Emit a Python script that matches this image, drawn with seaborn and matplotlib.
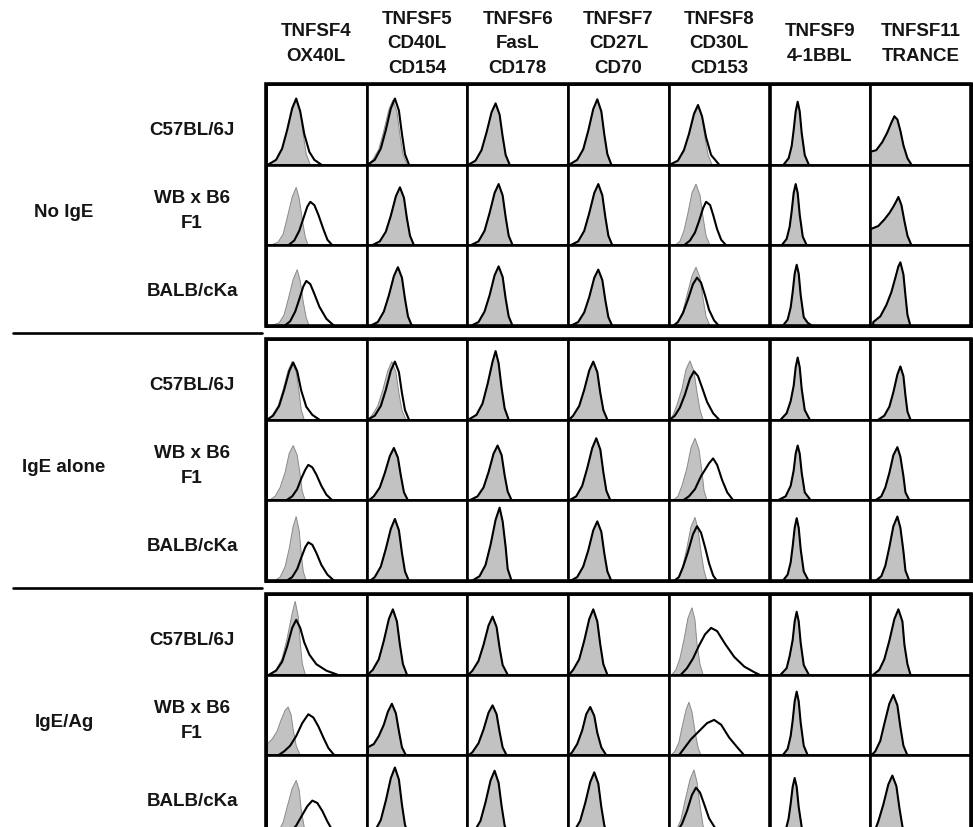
import matplotlib
matplotlib.use("Agg")
import matplotlib.pyplot as plt
from matplotlib.patches import Rectangle
from matplotlib.lines import Line2D
import seaborn as sns

# ==========================================
# Data
# panel units: x = fluorescence channel (0-100), y = % of panel height
# each curve = [x values, y values]
# gray = isotype control (filled), line = specific stain
# None in a line list -> stain follows the control outline
# ==========================================

ligands = ["TNFSF4\nOX40L", "TNFSF5\nCD40L\nCD154", "TNFSF6\nFasL\nCD178",
           "TNFSF7\nCD27L\nCD70", "TNFSF8\nCD30L\nCD153", "TNFSF9\n4-1BBL",
           "TNFSF11\nTRANCE"]
treatments = ["No IgE", "IgE alone", "IgE/Ag"]
strains = ["C57BL/6J", "WB x B6\nF1", "BALB/cKa"]

# ---- No IgE ----
gray_noige_b6 = [
    [[2, 10, 16, 21, 26, 30, 34, 37, 40, 44], [0, 6, 19, 42, 68, 80, 66, 37, 13, 0]],
    [[1, 6, 12, 17, 22, 26, 30, 33, 36, 40], [0, 6, 19, 42, 68, 80, 66, 37, 13, 0]],
    [[1, 8, 14, 19, 24, 28, 32, 35, 38, 42], [0, 5, 18, 40, 65, 76, 62, 35, 12, 0]],
    [[1, 9, 15, 20, 25, 29, 33, 36, 39, 43], [0, 6, 19, 42, 69, 81, 66, 37, 13, 0]],
    [[1, 9, 15, 20, 25, 29, 33, 36, 39, 43], [0, 5, 17, 37, 61, 72, 59, 33, 12, 0]],
    [[14, 19, 22, 24, 26, 28, 30, 32, 35, 39], [0, 8, 23, 43, 66, 78, 66, 39, 12, 0]],
    [[0, 0, 6, 12, 17, 21, 24, 27, 30, 33, 37, 41], [0, 16, 18, 28, 40, 52, 60, 56, 42, 24, 8, 0]],
]
line_noige_b6 = [
    [[2, 10, 16, 21, 26, 30, 34, 38, 43, 48, 55], [0, 6, 20, 43, 70, 82, 66, 38, 16, 6, 0]],
    [[1, 8, 14, 19, 24, 28, 32, 35, 38, 42], [0, 6, 20, 43, 70, 82, 67, 38, 13, 0]],
    None,
    None,
    [[1, 9, 15, 20, 25, 29, 33, 37, 42, 50], [0, 5, 18, 38, 63, 74, 60, 34, 12, 0]],
    None,
    None,
]

gray_noige_wb = [
    [[4, 12, 17, 21, 26, 30, 33, 36, 39, 42], [0, 4, 14, 34, 60, 72, 58, 32, 10, 0]],
    [[5, 13, 19, 24, 29, 33, 37, 40, 43, 47], [0, 5, 17, 37, 61, 72, 59, 33, 12, 0]],
    [[3, 11, 17, 22, 27, 31, 35, 38, 41, 45], [0, 5, 18, 40, 65, 76, 62, 35, 12, 0]],
    [[2, 10, 16, 21, 26, 30, 34, 37, 40, 44], [0, 5, 18, 40, 65, 76, 62, 35, 12, 0]],
    [[6, 11, 15, 19, 23, 27, 31, 34, 37, 41], [0, 5, 18, 40, 65, 76, 62, 35, 12, 0]],
    [[12, 17, 20, 22, 24, 26, 28, 30, 33, 37], [0, 8, 23, 42, 65, 76, 65, 38, 11, 0]],
    [[0, 0, 8, 14, 19, 23, 26, 28, 31, 34, 37, 41], [0, 20, 24, 32, 40, 48, 55, 60, 50, 30, 12, 0]],
]
line_noige_wb = [
    [[22, 28, 33, 37, 41, 44, 48, 52, 57, 61, 66], [0, 6, 18, 33, 48, 54, 50, 38, 20, 7, 0]],
    None,
    None,
    None,
    [[15, 21, 26, 30, 34, 37, 41, 44, 48, 52, 57], [0, 6, 16, 30, 46, 54, 50, 38, 20, 7, 0]],
    None,
    None,
]

gray_noige_balb = [
    [[4, 13, 18, 22, 27, 31, 34, 37, 40, 43], [0, 4, 14, 33, 58, 70, 56, 30, 10, 0]],
    [[3, 11, 17, 22, 27, 31, 35, 38, 41, 45], [0, 5, 18, 38, 62, 73, 60, 34, 12, 0]],
    [[3, 11, 17, 22, 27, 31, 35, 38, 41, 45], [0, 5, 18, 38, 63, 74, 61, 34, 12, 0]],
    [[2, 10, 16, 21, 26, 30, 34, 37, 40, 44], [0, 5, 17, 36, 60, 70, 57, 32, 11, 0]],
    [[4, 9, 14, 18, 23, 27, 31, 34, 37, 41], [0, 5, 18, 38, 62, 73, 60, 34, 12, 0]],
    [[13, 18, 21, 23, 25, 27, 29, 31, 34, 38, 43], [0, 8, 23, 42, 65, 76, 65, 38, 11, 4, 0]],
    [[3, 3, 10, 16, 21, 25, 28, 30, 33, 35, 37, 40], [0, 5, 12, 26, 42, 60, 74, 79, 64, 38, 14, 0]],
]
line_noige_balb = [
    [[18, 24, 29, 33, 37, 40, 44, 48, 53, 60, 68], [0, 6, 18, 33, 49, 56, 52, 40, 24, 9, 0]],
    None,
    None,
    None,
    [[4, 9, 14, 19, 24, 28, 32, 36, 40, 45, 50], [0, 5, 16, 33, 52, 60, 54, 38, 20, 7, 0]],
    None,
    None,
]

# ---- IgE alone ----
gray_ige_b6 = [
    [[1, 6, 12, 17, 22, 26, 30, 33, 35, 38], [0, 5, 17, 37, 61, 72, 59, 33, 12, 0]],
    [[1, 5, 11, 16, 21, 25, 29, 32, 35, 39], [0, 5, 17, 37, 61, 72, 59, 33, 12, 0]],
    [[1, 9, 15, 20, 25, 28, 31, 34, 37, 41], [0, 6, 20, 44, 72, 85, 70, 39, 14, 0]],
    [[1, 5, 11, 16, 21, 25, 29, 32, 35, 39], [0, 5, 17, 37, 61, 72, 59, 33, 12, 0]],
    [[1, 4, 8, 13, 17, 21, 25, 28, 31, 34], [0, 5, 18, 38, 62, 73, 60, 34, 12, 0]],
    [[11, 17, 21, 24, 26, 28, 30, 32, 35, 40], [0, 8, 23, 42, 65, 77, 65, 38, 12, 0]],
    [[8, 14, 19, 23, 27, 30, 33, 35, 37, 40], [0, 5, 16, 34, 56, 66, 54, 30, 10, 0]],
]
line_ige_b6 = [
    [[1, 7, 13, 18, 23, 27, 31, 35, 40, 46, 53], [0, 5, 17, 37, 60, 71, 60, 36, 16, 6, 0]],
    [[1, 8, 14, 19, 24, 28, 32, 35, 38, 42], [0, 5, 17, 37, 61, 72, 59, 33, 12, 0]],
    None,
    None,
    [[1, 6, 11, 16, 21, 25, 29, 33, 38, 44, 50], [0, 5, 15, 31, 51, 60, 54, 40, 22, 8, 0]],
    None,
    None,
]

gray_ige_wb = [
    [[3, 9, 14, 19, 23, 27, 31, 34, 36, 39], [0, 5, 16, 35, 58, 68, 56, 31, 11, 0]],
    [[2, 7, 13, 18, 23, 27, 31, 34, 37, 41], [0, 5, 16, 34, 55, 65, 53, 30, 10, 0]],
    [[2, 10, 16, 21, 26, 30, 34, 37, 40, 44], [0, 5, 16, 35, 58, 68, 56, 31, 11, 0]],
    [[1, 8, 14, 19, 24, 28, 32, 35, 38, 42], [0, 5, 18, 40, 65, 77, 63, 35, 12, 0]],
    [[4, 9, 13, 18, 22, 26, 30, 33, 35, 38], [0, 5, 18, 40, 65, 77, 63, 35, 12, 0]],
    [[8, 16, 21, 24, 26, 28, 30, 32, 35, 41], [0, 5, 18, 37, 58, 68, 58, 34, 10, 0]],
    [[5, 11, 15, 19, 23, 27, 30, 33, 35, 39], [0, 5, 16, 34, 56, 66, 54, 30, 10, 0]],
]
line_ige_wb = [
    [[20, 26, 31, 35, 39, 42, 46, 50, 55, 60, 66], [0, 5, 14, 27, 38, 44, 41, 32, 18, 7, 0]],
    None,
    None,
    None,
    [[14, 20, 26, 32, 36, 40, 44, 48, 53, 58, 64], [0, 5, 14, 30, 38, 46, 52, 44, 25, 10, 0]],
    None,
    None,
]

gray_ige_balb = [
    [[8, 14, 19, 23, 27, 30, 33, 35, 37, 40], [0, 5, 18, 40, 68, 80, 62, 34, 12, 0]],
    [[3, 8, 14, 19, 24, 28, 32, 35, 38, 42], [0, 5, 18, 40, 65, 77, 63, 35, 12, 0]],
    [[4, 12, 18, 23, 28, 32, 35, 38, 40, 44], [0, 6, 20, 45, 76, 91, 74, 42, 15, 0]],
    [[2, 9, 15, 20, 25, 29, 33, 36, 39, 43], [0, 5, 18, 38, 63, 74, 61, 34, 12, 0]],
    [[5, 10, 14, 18, 22, 26, 29, 32, 35, 38], [0, 5, 19, 41, 67, 79, 65, 36, 13, 0]],
    [[13, 18, 21, 23, 25, 27, 29, 31, 34, 39], [0, 8, 23, 43, 66, 78, 66, 39, 12, 0]],
    [[5, 11, 15, 19, 23, 27, 30, 33, 35, 39], [0, 6, 19, 42, 68, 80, 66, 37, 13, 0]],
]
line_ige_balb = [
    [[20, 26, 31, 35, 39, 42, 46, 50, 55, 61, 68], [0, 5, 15, 29, 42, 48, 45, 35, 20, 8, 0]],
    None,
    None,
    None,
    [[5, 10, 14, 19, 24, 28, 32, 36, 40, 44, 48], [0, 5, 17, 36, 58, 68, 60, 42, 22, 7, 0]],
    None,
    None,
]

# ---- IgE/Ag ----
gray_ag_b6 = [
    [[3, 10, 16, 21, 26, 29, 32, 34, 36, 39], [0, 6, 20, 45, 76, 91, 72, 40, 14, 0]],
    [[1, 6, 12, 17, 22, 26, 30, 33, 36, 40], [0, 6, 19, 42, 69, 81, 66, 37, 13, 0]],
    [[1, 5, 11, 16, 21, 25, 29, 32, 35, 40], [0, 5, 17, 37, 61, 72, 59, 33, 12, 0]],
    [[1, 5, 11, 16, 21, 25, 29, 32, 35, 39], [0, 6, 19, 42, 69, 81, 66, 37, 13, 0]],
    [[3, 7, 11, 15, 19, 23, 26, 28, 31, 34], [0, 6, 20, 43, 70, 83, 68, 38, 13, 0]],
    [[11, 17, 20, 23, 25, 27, 29, 31, 34, 39], [0, 8, 23, 43, 66, 78, 66, 39, 12, 0]],
    [[3, 9, 14, 19, 24, 28, 32, 34, 37, 40], [0, 6, 19, 42, 69, 81, 66, 37, 13, 0]],
]
line_ag_b6 = [
    [[3, 10, 16, 21, 26, 30, 34, 38, 43, 50, 60, 71], [0, 5, 16, 35, 58, 68, 58, 40, 25, 13, 5, 0]],
    None,
    None,
    None,
    [[12, 18, 24, 30, 36, 42, 48, 56, 65, 75, 85, 90], [0, 8, 20, 36, 50, 58, 54, 38, 22, 10, 3, 0]],
    None,
    None,
]

gray_ag_wb = [
    [[1, 1, 6, 11, 15, 19, 22, 25, 27, 30, 34], [0, 14, 20, 30, 44, 56, 60, 50, 32, 12, 0]],
    [[1, 1, 7, 12, 17, 21, 25, 29, 32, 35, 39], [0, 10, 14, 24, 38, 54, 64, 52, 30, 10, 0]],
    [[1, 5, 11, 16, 21, 25, 29, 32, 35, 39], [0, 4, 15, 32, 53, 62, 51, 29, 10, 0]],
    [[1, 4, 9, 14, 18, 22, 26, 29, 33, 38], [0, 4, 14, 31, 51, 60, 49, 28, 10, 0]],
    [[2, 6, 10, 13, 17, 20, 23, 26, 29, 32], [0, 5, 16, 34, 56, 66, 54, 30, 10, 0]],
    [[13, 18, 21, 23, 25, 27, 29, 31, 34, 38], [0, 8, 24, 43, 67, 79, 67, 40, 12, 0]],
    [[1, 5, 10, 14, 19, 23, 27, 30, 33, 37], [0, 5, 18, 39, 64, 75, 62, 35, 12, 0]],
]
line_ag_wb = [
    [[12, 18, 24, 30, 36, 42, 47, 52, 57, 62, 68], [0, 5, 12, 24, 40, 51, 47, 36, 22, 9, 0]],
    None,
    None,
    None,
    [[10, 16, 22, 30, 38, 45, 52, 60, 68, 75], [0, 10, 20, 30, 40, 44, 38, 22, 10, 0]],
    None,
    None,
]

gray_ag_balb = [
    [[5, 12, 17, 21, 26, 30, 33, 35, 38, 41], [0, 5, 17, 36, 59, 69, 57, 32, 11, 0]],
    [[2, 8, 14, 19, 24, 28, 32, 35, 38, 42], [0, 6, 20, 44, 72, 85, 70, 39, 14, 0]],
    [[1, 7, 13, 18, 23, 27, 31, 34, 37, 41], [0, 6, 19, 42, 69, 81, 66, 37, 13, 0]],
    [[1, 6, 12, 17, 22, 26, 30, 33, 36, 40], [0, 6, 19, 41, 67, 79, 65, 36, 13, 0]],
    [[3, 7, 12, 16, 21, 25, 28, 31, 34, 37], [0, 6, 20, 43, 70, 82, 67, 38, 13, 0]],
    [[11, 16, 19, 21, 23, 25, 27, 29, 32, 36], [0, 7, 22, 40, 61, 72, 61, 36, 11, 0]],
    [[1, 4, 8, 13, 18, 22, 26, 29, 32, 36], [0, 5, 18, 39, 64, 75, 62, 35, 12, 0]],
]
line_ag_balb = [
    [[18, 24, 30, 35, 41, 46, 51, 56, 61, 66, 72], [0, 5, 13, 24, 37, 44, 41, 31, 18, 7, 0]],
    None,
    None,
    None,
    [[3, 8, 13, 18, 23, 27, 31, 35, 40, 47, 55], [0, 5, 15, 31, 51, 60, 54, 40, 22, 8, 0]],
    None,
    None,
]

gray_rows = [gray_noige_b6, gray_noige_wb, gray_noige_balb,
             gray_ige_b6, gray_ige_wb, gray_ige_balb,
             gray_ag_b6, gray_ag_wb, gray_ag_balb]
line_rows = [line_noige_b6, line_noige_wb, line_noige_balb,
             line_ige_b6, line_ige_wb, line_ige_balb,
             line_ag_b6, line_ag_wb, line_ag_balb]

# ==========================================
# Figure
# ==========================================

sns.set_theme(style="white")
plt.rcParams["font.family"] = ["Liberation Sans", "DejaVu Sans"]

W, H = 973, 828
fig = plt.figure(figsize=(W / 100, H / 100), dpi=100)
fig.patch.set_facecolor("white")

col_left = 266
col_w = 100.7
row_h = 80.7
block_top = [85, 340, 595]
txt = dict(fontsize=13.5, fontweight="bold", color="#151515")

for b in range(3):
    for r in range(3):
        k = b * 3 + r
        top = block_top[b] + r * row_h
        for c in range(7):
            left = col_left + c * col_w
            ax = fig.add_axes([left / W, 1 - (top + row_h) / H, col_w / W, row_h / H])
            gx, gy = gray_rows[k][c]
            ax.fill(gx, gy, facecolor="#c2c2c2", edgecolor="#8a8a8a", lw=0.7, zorder=1)
            lx, ly = line_rows[k][c] if line_rows[k][c] is not None else (gx, gy)
            sns.lineplot(x=lx, y=ly, ax=ax, color="black", linewidth=1.5,
                         sort=False, estimator=None, zorder=2)
            ax.set_xlim(0, 100)
            ax.set_ylim(0, 100)
            ax.set_xticks([])
            ax.set_yticks([])
            ax.set_xlabel("")
            ax.set_ylabel("")
            for s in ax.spines.values():
                s.set_visible(True)
                s.set_linewidth(1.9)
                s.set_color("black")

    # thick outline round each treatment block
    fig.add_artist(Rectangle((col_left / W, 1 - (block_top[b] + 3 * row_h) / H),
                             7 * col_w / W, 3 * row_h / H, transform=fig.transFigure,
                             fill=False, lw=2.6, ec="black", zorder=5))

    # row labels
    for r, name in enumerate(strains):
        yc = block_top[b] + (r + 0.5) * row_h + 5
        lines = name.split("\n")
        for i, line in enumerate(lines):
            y = yc + (i - (len(lines) - 1) / 2) * 24.5
            fig.text(192 / W, 1 - y / H, line, ha="center", va="center", **txt)
    yc = block_top[b] + 1.5 * row_h + 6
    fig.text(64 / W, 1 - yc / H, treatments[b], ha="center", va="center", **txt)

# separators between treatment groups
for y in [333.5, 588.5]:
    fig.add_artist(Line2D([13 / W, 262 / W], [1 - y / H, 1 - y / H],
                          transform=fig.transFigure, color="black", lw=1.9))

# column headers
for c, name in enumerate(ligands):
    cx = col_left + (c + 0.5) * col_w
    lines = name.split("\n")
    for i, line in enumerate(lines):
        y = 44 + (i - (len(lines) - 1) / 2) * 24.5
        fig.text(cx / W, 1 - y / H, line, ha="center", va="center", **txt)

plt.savefig("out.png", dpi=100, facecolor="white")
plt.close()
